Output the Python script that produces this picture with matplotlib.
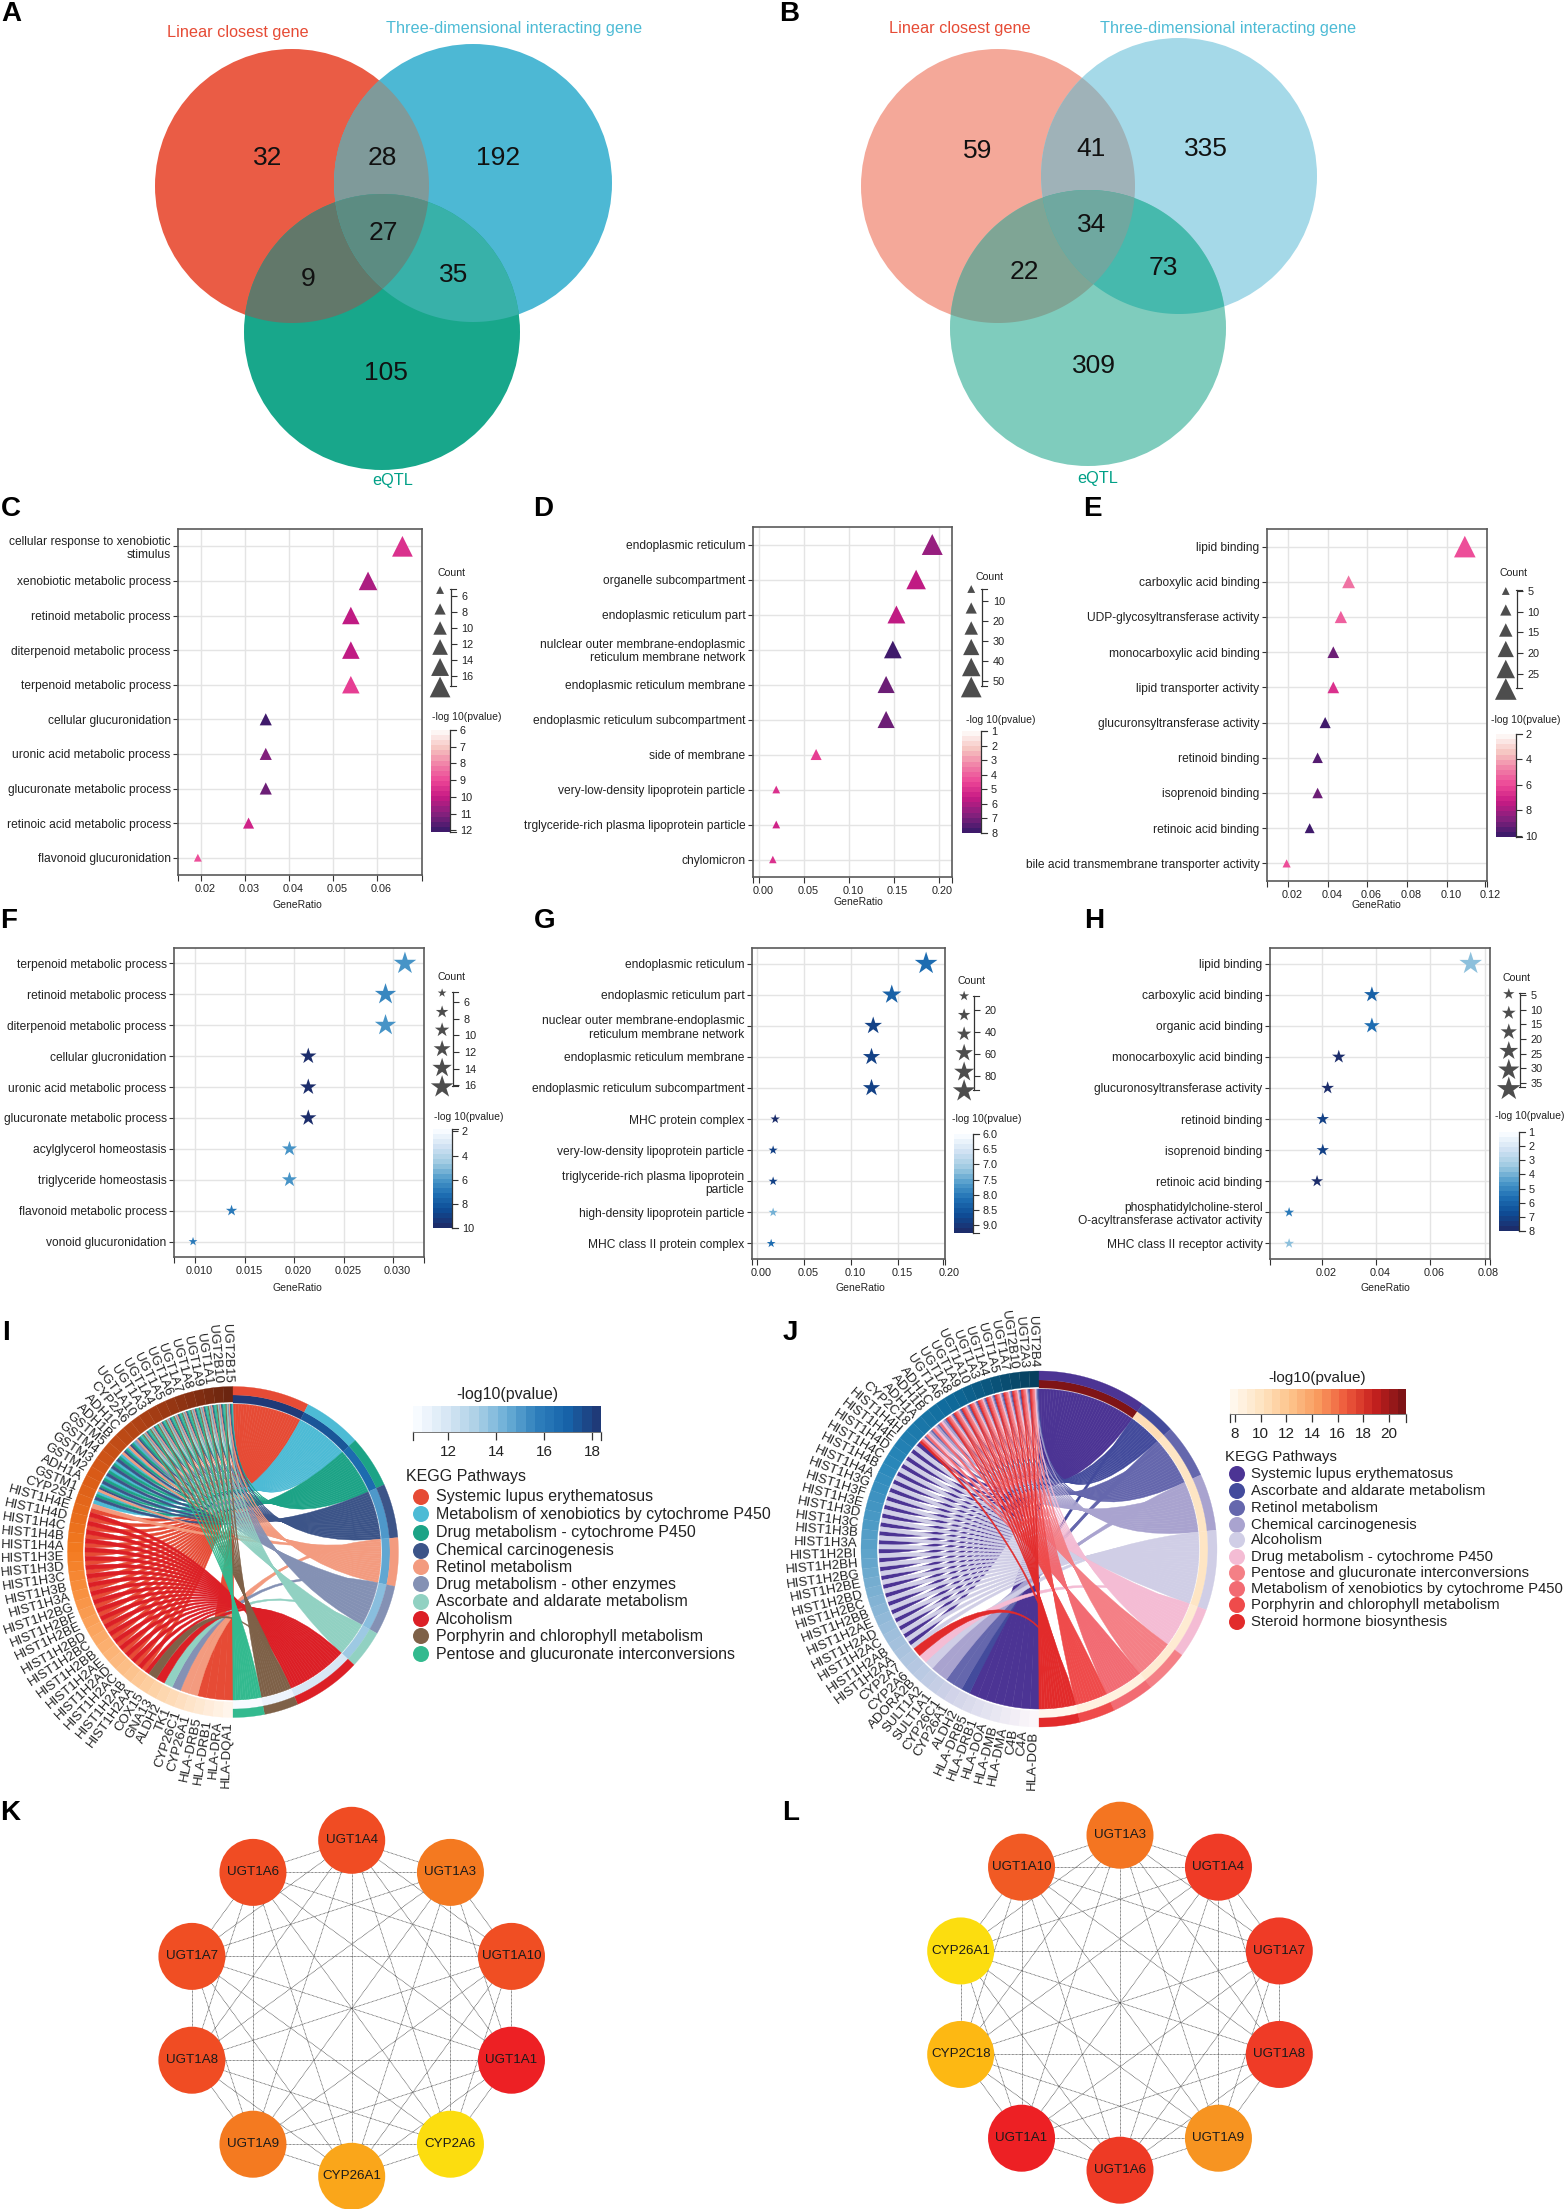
import itertools
import numpy as np
import matplotlib
matplotlib.use('Agg')
import matplotlib.pyplot as plt
from matplotlib.cm import ScalarMappable
from matplotlib.colors import LinearSegmentedColormap, Normalize
from matplotlib.path import Path
from matplotlib.patches import PathPatch, Circle
from matplotlib.transforms import ScaledTranslation

plt.rcParams['font.family'] = ['Liberation Sans', 'DejaVu Sans']

W, H = 1566, 2209

# ---- venn counts (only1, only2, only3, 1&2, 1&3, 2&3, all)
venn_a = [32, 192, 105, 28, 9, 35, 27]
venn_b = [59, 335, 309, 41, 22, 73, 34]
venn_names = ['Linear closest gene', 'Three-dimensional interacting gene', 'eQTL']

# ---- dot plots
c_terms = ['cellular response to xenobiotic\nstimulus', 'xenobiotic metabolic process', 'retinoid metabolic process',
           'diterpenoid metabolic process', 'terpenoid metabolic process', 'cellular glucuronidation',
           'uronic acid metabolic process', 'glucuronate metabolic process', 'retinoic acid metabolic process',
           'flavonoid glucuronidation']
c_ratio = [0.0657, 0.0579, 0.054, 0.054, 0.054, 0.0347, 0.0347, 0.0347, 0.0308, 0.0193]
c_count = [17, 15, 14, 14, 14, 9, 9, 9, 8, 5]
c_pval = [9.5, 10.3, 10.2, 10.2, 9.2, 12, 11, 11.2, 9.8, 9.0]

d_terms = ['endoplasmic reticulum', 'organelle subcompartment', 'endoplasmic reticulum part',
           'nulclear outer membrane-endoplasmic\nreticulum membrane network', 'endoplasmic reticulum membrane',
           'endoplasmic reticulum subcompartment', 'side of membrane', 'very-low-density lipoprotein particle',
           'trglyceride-rich plasma lipoprotein particle', 'chylomicron']
d_ratio = [0.193, 0.175, 0.153, 0.149, 0.1415, 0.1415, 0.0634, 0.0189, 0.0189, 0.0151]
d_count = [53, 48, 42, 41, 39, 39, 17, 5, 5, 4]
d_pval = [6.3, 5.7, 5.8, 8, 7.1, 7.1, 4.6, 5, 5.2, 4.9]

e_terms = ['lipid binding', 'carboxylic acid binding', 'UDP-glycosyltransferase activity',
           'monocarboxylic acid binding', 'lipid transporter activity', 'glucuronsyltransferase activity',
           'retinoid binding', 'isoprenoid binding', 'retinoic acid binding',
           'bile acid transmembrane transporter activity']
e_ratio = [0.109, 0.0505, 0.0466, 0.0428, 0.0428, 0.0387, 0.0349, 0.0349, 0.0309, 0.0193]
e_count = [28, 13, 12, 11, 11, 10, 9, 9, 8, 5]
e_pval = [6, 5, 5.6, 9, 6.5, 10, 9.3, 8.9, 10, 6]

f_terms = ['terpenoid metabolic process', 'retinoid metabolic process', 'diterpenoid metabolic process',
           'cellular glucronidation', 'uronic acid metabolic process', 'glucuronate metabolic process',
           'acylglycerol homeostasis', 'triglyceride homeostasis', 'flavonoid metabolic process',
           'vonoid glucuronidation']
f_ratio = [0.03116, 0.0292, 0.0292, 0.0214, 0.0214, 0.0214, 0.0195, 0.0195, 0.01365, 0.00976]
f_count = [16, 15, 15, 11, 11, 11, 10, 10, 7, 5]
f_pval = [6, 6.5, 6.3, 10, 10, 10, 6.3, 6.3, 7, 7]

g_terms = ['endoplasmic reticulum', 'endoplasmic reticulum part',
           'nuclear outer membrane-endoplasmic\nreticulum membrane network', 'endoplasmic reticulum membrane',
           'endoplasmic reticulum subcompartment', 'MHC protein complex', 'very-low-density lipoprotein particle',
           'triglyceride-rich plasma lipoprotein\nparticle', 'high-density lipoprotein particle',
           'MHC class II protein complex']
g_ratio = [0.18, 0.1434, 0.1236, 0.1218, 0.1218, 0.0191, 0.0169, 0.0169, 0.0169, 0.0148]
g_count = [95, 75, 65, 63, 63, 16, 14, 14, 14, 12]
g_pval = [8.2, 8.4, 8.8, 8.9, 8.9, 9.2, 8.8, 8.8, 7.4, 8.2]

h_terms = ['lipid binding', 'carboxylic acid binding', 'organic acid binding', 'monocarboxylic acid binding',
           'glucuronosyltransferase activity', 'retinoid binding', 'isoprenoid binding', 'retinoic acid binding',
           'phosphatidylcholine-sterol\nO-acyltransferase activator activity', 'MHC class II receptor activity']
h_ratio = [0.0749, 0.0385, 0.0385, 0.0263, 0.0222, 0.0204, 0.0204, 0.0183, 0.008, 0.008]
h_count = [37, 19, 19, 13, 11, 10, 10, 9, 4, 4]
h_pval = [3.8, 6, 5.6, 8, 8, 7.2, 7.2, 8, 5.5, 3.8]

# ---- chord I
i_genes = ['UGT2B15', 'UGT2B10', 'UGT1A1', 'UGT1A9', 'UGT1A8', 'UGT1A7', 'UGT1A6', 'UGT1A5', 'UGT1A4', 'UGT1A3',
           'UGT1A10', 'CYP2A6', 'ADH1C', 'ADH1B', 'GSTM5', 'GSTM4', 'GSTM3', 'GSTM2', 'ADH1A', 'GSTM1', 'CYP2S1',
           'HIST1H4E', 'HIST1H4D', 'HIST1H4C', 'HIST1H4B', 'HIST1H4A', 'HIST1H3E', 'HIST1H3D', 'HIST1H3C',
           'HIST1H3B', 'HIST1H3A', 'HIST1H2BG', 'HIST1H2BF', 'HIST1H2BE', 'HIST1H2BD', 'HIST1H2BC', 'HIST1H2BB',
           'HIST1H2AE', 'HIST1H2AD', 'HIST1H2AC', 'HIST1H2AB', 'HIST1H2AA', 'COX15', 'GNA13', 'ALDH2', 'TK1',
           'CYP26C1', 'CYP26A1', 'HLA-DRB5', 'HLA-DRB1', 'HLA-DRA', 'HLA-DQA1']
i_ugt = [g for g in i_genes if g.startswith('UGT')]
i_gst = [g for g in i_genes if g.startswith('GST')]
i_adh = [g for g in i_genes if g.startswith('ADH')]
i_hist = [g for g in i_genes if g.startswith('HIST')]
i_hla = [g for g in i_genes if g.startswith('HLA')]
i_paths = ['Systemic lupus erythematosus', 'Metabolism of xenobiotics by cytochrome P450',
           'Drug metabolism - cytochrome P450', 'Chemical carcinogenesis', 'Retinol metabolism',
           'Drug metabolism - other enzymes', 'Ascorbate and aldarate metabolism', 'Alcoholism',
           'Porphyrin and chlorophyll metabolism', 'Pentose and glucuronate interconversions']
i_members = [i_hist + i_hla,
             i_ugt + i_gst + i_adh + ['CYP2A6', 'CYP2S1'],
             i_ugt + i_gst + i_adh + ['CYP2A6'],
             i_ugt + i_gst + i_adh + ['CYP2A6'],
             i_ugt + i_adh + ['CYP2A6', 'CYP2S1', 'CYP26C1', 'CYP26A1'],
             i_ugt + ['CYP2A6', 'TK1'],
             i_ugt + ['ALDH2'],
             i_hist + ['GNA13'],
             i_ugt + ['COX15'],
             i_ugt]
i_span = [27, 20.6, 18.4, 19, 17, 17.5, 13.5, 24, 12, 11]
i_pval = [18.2, 17.4, 16.6, 15.2, 14.5, 14.0, 13.6, 11.9, 11.2, 10.8]
i_colors = ['#e64b35', '#4dbbd5', '#1ca386', '#3c5488', '#f39b7f', '#8491b4', '#91d1c2', '#dc1f26', '#7e6148', '#33ba8f']

# ---- chord J
j_genes = ['UGT2B4', 'UGT2A3', 'UGT2B10', 'UGT1A7', 'UGT1A5', 'UGT1A4', 'UGT1A3', 'UGT1A10', 'UGT1A9', 'UGT1A8',
           'UGT1A6', 'ADH1C', 'ADH1B', 'ADH1A', 'CYP2C18', 'HIST1H4H', 'HIST1H4E', 'HIST1H4D', 'HIST1H4C',
           'HIST1H4B', 'HIST1H4A', 'HIST1H3G', 'HIST1H3F', 'HIST1H3E', 'HIST1H3D', 'HIST1H3C', 'HIST1H3B',
           'HIST1H3A', 'HIST1H2BI', 'HIST1H2BH', 'HIST1H2BG', 'HIST1H2BE', 'HIST1H2BD', 'HIST1H2BC', 'HIST1H2BB',
           'HIST1H2AE', 'HIST1H2AD', 'HIST1H2AC', 'HIST1H2AB', 'HIST1H2AA', 'CYP2A7', 'CYP2A6', 'ADORA2B',
           'SULT1A2', 'SULT1A1', 'CYP26C1', 'CYP26A1', 'ALDH2', 'HLA-DRB5', 'HLA-DRB1', 'HLA-DOA', 'HLA-DMB',
           'HLA-DMA', 'C4B', 'C4A', 'HLA-DOB']
j_ugt = [g for g in j_genes if g.startswith('UGT')]
j_adh = [g for g in j_genes if g.startswith('ADH')]
j_hist = [g for g in j_genes if g.startswith('HIST')]
j_sle = ['HLA-DRB5', 'HLA-DRB1', 'HLA-DOA', 'HLA-DMB', 'HLA-DMA', 'C4B', 'C4A', 'HLA-DOB']
j_paths = ['Systemic lupus erythematosus', 'Ascorbate and aldarate metabolism', 'Retinol metabolism',
           'Chemical carcinogenesis', 'Alcoholism', 'Drug metabolism - cytochrome P450',
           'Pentose and glucuronate interconversions', 'Metabolism of xenobiotics by cytochrome P450',
           'Porphyrin and chlorophyll metabolism', 'Steroid hormone biosynthesis']
j_members = [j_hist + j_sle,
             j_ugt + ['ALDH2'],
             j_ugt + j_adh + ['CYP26C1', 'CYP26A1', 'CYP2C18'],
             j_ugt + j_adh + ['SULT1A1', 'SULT1A2'],
             j_hist + ['ADORA2B'],
             j_ugt + j_adh + ['CYP2A6', 'CYP2C18'],
             j_ugt,
             j_ugt + j_adh + ['CYP2C18'],
             j_ugt,
             j_ugt + ['CYP2A7', 'CYP2C18']]
j_span = [35.6, 12.1, 17.7, 18.5, 26.1, 16.6, 14.4, 14, 11.7, 13.3]
j_pval = [21.2, 10.3, 10.0, 9.9, 9.6, 9.2, 9.0, 8.8, 8.4, 8.0]
j_colors = ['#4c3494', '#434b9c', '#6567ad', '#a9a3cf', '#d0cee6', '#f4bcd4', '#f48086', '#f26b73', '#ef4b4b', '#e22b2b']

# ---- networks
k_nodes = ['UGT1A4', 'UGT1A3', 'UGT1A10', 'UGT1A1', 'CYP2A6', 'CYP26A1', 'UGT1A9', 'UGT1A8', 'UGT1A7', 'UGT1A6']
k_colors = ['#f04c23', '#f47920', '#f04e23', '#ed2024', '#fcdd0f', '#faa61a', '#f47a20', '#f04c23', '#f04e23', '#f04c23']
l_nodes = ['UGT1A3', 'UGT1A4', 'UGT1A7', 'UGT1A8', 'UGT1A9', 'UGT1A6', 'UGT1A1', 'CYP2C18', 'CYP26A1', 'UGT1A10']
l_colors = ['#f47521', '#ef3b26', '#ef3b26', '#ef3b26', '#f79421', '#ee3a25', '#ed2024', '#fdb813', '#fcdd0f', '#f15a24']

pink = LinearSegmentedColormap.from_list('pink', ['#fdf6f4', '#f6c4c0', '#f07fa6', '#ec4596', '#c71a84', '#86207d', '#3f1a6b'], N=20)
blue = LinearSegmentedColormap.from_list('blue', ['#f7fbff', '#cfe1f2', '#9ecae1', '#4f9bcb', '#1f70b4', '#0e4d96', '#1c2d6b'], N=20)
i_bar = LinearSegmentedColormap.from_list('ibar', ['#f7fbff', '#d6e6f4', '#abd0e6', '#6aaed6', '#2f7fbc', '#1764ab', '#1f3a78'], N=20)
j_bar = LinearSegmentedColormap.from_list('jbar', ['#fff7ec', '#fee3c0', '#fdc48c', '#f99a5e', '#ee5a3c', '#c7201f', '#7f1416'], N=21)
i_ring = LinearSegmentedColormap.from_list('iring', ['#6b2510', '#a63d14', '#d95a17', '#f47b20', '#fba55f', '#fdd0a2', '#fff5eb'])
j_ring = LinearSegmentedColormap.from_list('jring', ['#07405e', '#0f6a9b', '#2a88bb', '#5ba2c9', '#9dbedb', '#cfd2e8', '#fbf6fa'])

fig = plt.figure(figsize=(W / 100, H / 100), dpi=100)
ov = fig.add_axes([0, 0, 1, 1], zorder=5)
ov.set_xlim(0, W)
ov.set_ylim(H, 0)
ov.axis('off')


def px_axes(x0, y0, x1, y1):
    return fig.add_axes([x0 / W, 1 - y1 / H, (x1 - x0) / W, (y1 - y0) / H])


def area(w):
    return (w * 0.72) ** 2


# ---- venn
def lens(circles):
    pts = []
    t = np.linspace(0, 2 * np.pi, 900)
    for i, (cx, cy, r) in enumerate(circles):
        p = np.c_[cx + r * np.cos(t), cy + r * np.sin(t)]
        for j, (ox, oy, orr) in enumerate(circles):
            if j != i:
                p = p[np.hypot(p[:, 0] - ox, p[:, 1] - oy) <= orr]
        pts.append(p)
    pts = np.vstack(pts)
    c = pts.mean(axis=0)
    return pts[np.argsort(np.arctan2(pts[:, 1] - c[1], pts[:, 0] - c[0]))]


def venn(circles, fills, counts, count_xy, names_xy):
    for i, c in enumerate(circles):
        ov.add_patch(Circle(c[:2], c[2], fc=fills[i], ec='none'))
    pairs = [(0, 1), (0, 2), (1, 2), (0, 1, 2)]
    for idx, col in zip(pairs, fills[3:]):
        ov.fill(*lens([circles[k] for k in idx]).T, fc=col, ec='none')
    for n, (x, y) in zip(counts, count_xy):
        ov.text(x, y, str(n), fontsize=19, ha='center', va='center', color='#111')
    for name, (x, y), col in zip(venn_names, names_xy, ['#e64b35', '#4dbbd5', '#00a087']):
        ov.text(x, y, name, fontsize=11.7, ha='center', va='center', color=col)


venn([(292, 186, 137), (473, 183, 139), (382, 332, 138)],
     ['#ea5c45', '#4db8d4', '#18a78b', '#7f9a9a', '#62786a', '#38b1a9', '#5c8c82'],
     venn_a,
     [(268, 158), (498, 158), (386, 373), (382, 158), (308, 279), (454, 275), (383, 233)],
     [(238, 33), (514, 29), (393, 481)])
venn([(998, 186, 137), (1179, 176, 138), (1088, 328, 138)],
     ['#f4a899', '#a5d9e8', '#7fccbd', '#9fb2b8', '#7fa595', '#46b9ad', '#6fa8a0'],
     venn_b,
     [(978, 151), (1206, 149), (1094, 366), (1091, 149), (1024, 272), (1163, 268), (1092, 225)],
     [(960, 29), (1228, 29), (1098, 479)])


def dot_panel(frame, box, xlim, xticks, fmt, terms, ratio, count, pval, cmap, vrange, marker, crange, wrange, xlab_xy,
              cbar_box, cbar_ticks, cbar_title_xy, cbar_fmt,
              leg_title_xy, glyph_x, glyph_ys, glyph_w, size_axis, size_ticks):
    ox, k = frame
    fx = lambda x: ox + (x - ox) * k
    box = (fx(box[0]), box[1], fx(box[2]), box[3])
    cbar_box = (fx(cbar_box[0]), cbar_box[1], fx(cbar_box[2]), cbar_box[3])
    boost = 1.32 if marker == '*' else 1.12

    ax = px_axes(*box)
    y = np.arange(len(terms))
    ax.set_xlim(*xlim)
    ax.set_ylim(len(terms) - 0.5, -0.5)
    ax.grid(True, color='#e4e4e4', lw=1)
    ax.set_axisbelow(True)
    widths = np.interp(count, crange, wrange) * boost
    ax.scatter(ratio, y, s=area(widths), c=pval, cmap=cmap, vmin=vrange[0], vmax=vrange[1], marker=marker,
               linewidths=0, zorder=3, clip_on=False)
    ax.set_xticks(list(xticks))
    ax.set_xticklabels([fmt % v for v in xticks], fontsize=7.8, color='#222')
    ax.set_xticks(list(xlim), minor=True)
    ax.set_yticks(y)
    ax.set_yticklabels(terms, fontsize=8.65, color='#222', linespacing=1.15, multialignment='right')
    ax.tick_params(axis='y', length=3.6, width=0.8, pad=2, color='#333')
    ax.tick_params(axis='x', which='both', length=4, width=0.8, pad=2.5, color='#333')
    shift = ScaledTranslation(4 / 100, 0, fig.dpi_scale_trans)
    for lab in ax.get_xticklabels():
        lab.set_transform(lab.get_transform() + shift)
    for s in ax.spines.values():
        s.set_color('#5a5a5a')
        s.set_linewidth(1.2)
    ov.text(fx(xlab_xy[0]), xlab_xy[1], 'GeneRatio', fontsize=7.5, ha='center', va='center', color='#222')

    # size legend
    ov.text(fx(leg_title_xy[0]), leg_title_xy[1], 'Count', fontsize=7.6, ha='center', va='center', color='#222')
    ov.scatter([fx(glyph_x)] * len(glyph_ys), glyph_ys, s=area(np.array(glyph_w) * boost),
               marker=marker, c='#4d4d4d', linewidths=0)
    sx, sy0, sy1, v0, v1 = size_axis
    sx = fx(sx)
    sax = px_axes(sx, sy0, sx + 1, sy1)
    sax.patch.set_visible(False)
    sax.set_ylim(v1, v0)
    sax.set_xticks([])
    sax.yaxis.tick_right()
    sax.set_yticks(size_ticks)
    sax.tick_params(axis='y', length=4, width=0.8, labelsize=7.8, pad=3.5, color='#333', labelcolor='#222')
    for key in ['left', 'top', 'bottom']:
        sax.spines[key].set_visible(False)
    sax.spines['right'].set_color('#333')
    sax.spines['right'].set_linewidth(0.9)
    for yy in (sy0, sy1):
        ov.plot([sx, sx + 6], [yy, yy], color='#333', lw=0.8)

    # colour legend
    cax = px_axes(*cbar_box)
    sm = ScalarMappable(Normalize(*vrange), cmap)
    cb = fig.colorbar(sm, cax=cax)
    cb.outline.set_visible(False)
    cb.set_ticks(cbar_ticks)
    cb.set_ticklabels([cbar_fmt % v for v in cbar_ticks])
    cax.invert_yaxis()
    cax.tick_params(axis='y', length=4, width=0.8, labelsize=7.8, pad=3, color='#333', labelcolor='#222')
    ov.plot([cbar_box[2], cbar_box[2]], [cbar_box[1], cbar_box[3]], color='#333', lw=0.9)
    for yy in (cbar_box[1], cbar_box[3]):
        ov.plot([cbar_box[2], cbar_box[2] + 6], [yy, yy], color='#333', lw=0.8)
    ov.text(fx(cbar_title_xy[0]), cbar_title_xy[1], '-log 10(pvalue)', fontsize=7.5, ha='center', va='center', color='#222')


dot_panel((0, 1.014), (176, 529, 416, 875), (0.0149, 0.0701), [0.02, 0.03, 0.04, 0.05, 0.06], '%.2f',
          c_terms, c_ratio, c_count, c_pval, pink, (6, 12.1), '^', (5, 17), (7, 18.5), (293, 905),
          (425, 730, 444, 832), [6, 7, 8, 9, 10, 11, 12], (460, 717), '%d',
          (445, 573), 434, [590, 609, 628, 647, 667, 687], [7, 10, 12, 14, 16, 18.5],
          (444, 589, 686, 5.1, 17.2), [6, 8, 10, 12, 14, 16])
dot_panel((520, 1.014), (750, 527, 946, 877), (-0.0068, 0.215), [0, 0.05, 0.10, 0.15, 0.20], '%.2f',
          d_terms, d_ratio, d_count, d_pval, pink, (1, 8), '^', (4, 53), (6.7, 18.7), (854, 902),
          (956, 731, 975, 833), [1, 2, 3, 4, 5, 6, 7, 8], (994, 720), '%d',
          (983, 577), 965, [589, 608, 628, 647, 667, 687], [7, 10, 12, 14.5, 16.5, 18.5],
          (975, 589, 686, 4.2, 52.5), [10, 20, 30, 40, 50])
dot_panel((1040, 1.006), (1266, 529, 1484, 881), (0.0096, 0.119), [0.02, 0.04, 0.06, 0.08, 0.10, 0.12], '%.2f',
          e_terms, e_ratio, e_count, e_pval, pink, (2, 10.1), '^', (5, 28), (7.3, 19.3), (1374, 905),
          (1493, 734, 1513, 837), [2, 4, 6, 8, 10], (1523, 720), '%d',
          (1511, 573), 1503, [591, 610, 630, 649, 669, 689], [7, 10, 12, 14.5, 16.5, 19.3],
          (1513, 590, 688, 4.8, 28.4), [5, 10, 15, 20, 25])
dot_panel((0, 1.014), (172, 948, 418, 1257), (0.00788, 0.03307), [0.010, 0.015, 0.020, 0.025, 0.030], '%.3f',
          f_terms, f_ratio, f_count, f_pval, blue, (1.8, 10), '*', (5, 16), (7, 18), (293, 1288),
          (427, 1129, 446, 1228), [2, 4, 6, 8, 10], (462, 1117), '%d',
          (445, 977), 436, [993, 1012, 1030, 1049, 1068, 1087], [7, 10, 11.5, 13.5, 15.5, 18],
          (446, 992, 1086, 4.8, 16.1), [6, 8, 10, 12, 14, 16])
dot_panel((520, 1.014), (749, 948, 939, 1259), (-0.0054, 0.198), [0, 0.05, 0.10, 0.15, 0.20], '%.2f',
          g_terms, g_ratio, g_count, g_pval, blue, (6, 9.26), '*', (12, 95), (7, 18), (856, 1288),
          (948, 1134, 967, 1233), [6, 6.5, 7, 7.5, 8, 8.5, 9], (980, 1119), '%.1f',
          (965, 981), 958, [996, 1015, 1034, 1053, 1072, 1091], [8, 10, 11.5, 14, 16, 18],
          (967, 996, 1090, 7.3, 92.7), [20, 40, 60, 80])
dot_panel((1040, 1.006), (1269, 948, 1487, 1259), (0.0011, 0.0819), [0.02, 0.04, 0.06, 0.08], '%.2f',
          h_terms, h_ratio, h_count, h_pval, blue, (1, 8), '*', (4, 37), (8, 18), (1383, 1288),
          (1496, 1132, 1516, 1231), [1, 2, 3, 4, 5, 6, 7, 8], (1527, 1116), '%d',
          (1514, 978), 1506, [994, 1013, 1032, 1051, 1070, 1089], [9, 11, 13, 15, 17, 19],
          (1516, 993, 1087, 4.3, 36.4), [5, 10, 15, 20, 25, 30, 35])


# ---- chord panels
def pol(cx, cy, r, deg):
    t = np.radians(deg)
    return np.c_[cx + r * np.sin(t), cy - r * np.cos(t)]


def ring(cx, cy, r0, r1, t0, t1, color):
    t = np.linspace(t0, t1, 30)
    pts = np.vstack([pol(cx, cy, r1, t), pol(cx, cy, r0, t[::-1])])
    ov.fill(pts[:, 0], pts[:, 1], fc=color, ec=color, lw=0.2)


def ribbon(cx, cy, r, a0, a1, b0, b1, color, zorder):
    aa = pol(cx, cy, r, np.linspace(a0, a1, 6))
    bb = pol(cx, cy, r, np.linspace(b0, b1, 6))
    verts = list(aa) + [(cx, cy), bb[0]] + list(bb[1:]) + [(cx, cy), aa[0]]
    codes = [Path.MOVETO] + [Path.LINETO] * 5 + [Path.CURVE3, Path.CURVE3] + [Path.LINETO] * 5 + [Path.CURVE3, Path.CURVE3]
    ov.add_patch(PathPatch(Path(verts, codes), fc=color, ec=color, lw=0.3, zorder=zorder))


def chord(cx, cy, r_rib, r_gene, r_heat, r_out, genes, members, span, pval, colors, ring_cmap, heat_cmap, vrange):
    n = len(genes)
    g = 180.0 / n
    # gene side
    for i, name in enumerate(genes):
        t1 = 360 - i * g
        ring(cx, cy, r_gene, r_out, t1 - g, t1, ring_cmap(i / (n - 1)))
        mid = t1 - g / 2
        rot = np.degrees(np.arctan2(-np.cos(np.radians(mid)), -np.sin(np.radians(mid))))
        x, y = pol(cx, cy, r_out + 3.5, mid)[0]
        ov.text(x, y, name, fontsize=9.5, rotation=rot, rotation_mode='anchor', ha='right', va='center', color='#222')
    # pathway side
    starts = np.concatenate([[0], np.cumsum(span)[:-1]])
    norm = Normalize(*vrange)
    link_count = {name: sum(name in m for m in members) for name in genes}
    seen = {name: 0 for name in genes}
    for p, (s, w) in enumerate(zip(starts, span)):
        ring(cx, cy, r_rib + 1, r_heat, s, s + w, heat_cmap(norm(pval[p])))
        ring(cx, cy, r_heat, r_out, s, s + w, colors[p])
        m = sorted(members[p], key=genes.index, reverse=True)
        dw = w / len(m)
        for k, name in enumerate(m):
            i = genes.index(name)
            part = g / link_count[name]
            top = 360 - i * g - seen[name] * part
            seen[name] += 1
            ribbon(cx, cy, r_rib, top - part, top, s + k * dw, s + (k + 1) * dw, colors[p], 2 + p * 0.01)


def bar_legend(box, vrange, cmap, ticks, title_xy, fontsize):
    cax = px_axes(*box)
    cb = fig.colorbar(ScalarMappable(Normalize(*vrange), cmap), cax=cax, orientation='horizontal')
    cb.outline.set_visible(False)
    cb.set_ticks(ticks)
    cax.tick_params(axis='x', length=6, width=0.9, labelsize=11, pad=3, color='#333', labelcolor='#222')
    for xx in (box[0], box[2]):
        ov.plot([xx, xx], [box[3], box[3] + 8], color='#333', lw=0.9)
    ov.plot([box[0], box[2]], [box[3], box[3]], color='#777', lw=0.7)
    ov.text(*title_xy, '-log10(pvalue)', fontsize=fontsize, ha='center', va='center', color='#222')


def path_legend(names, colors, title_xy, dot_x, text_x, ys, fontsize):
    ov.text(*title_xy, 'KEGG Pathways', fontsize=fontsize, ha='left', va='center', color='#222')
    ov.scatter([dot_x] * len(names), ys, s=area(16), c=colors, linewidths=0)
    for name, yy in zip(names, ys):
        ov.text(text_x, yy, name, fontsize=fontsize, ha='left', va='center', color='#222')


chord(233, 1552, 148, 150, 157, 165.5, i_genes, i_members, i_span, i_pval, i_colors, i_ring, i_bar, (10.53, 18.36))
bar_legend((413, 1406, 601, 1432), (10.53, 18.36), i_bar, [12, 14, 16, 18], (507, 1395), 11.4)
path_legend(i_paths, i_colors, (406, 1477), 421, 436,
            [1497, 1514, 1533, 1551, 1567, 1584, 1602, 1619, 1636, 1654], 11.55)

chord(1039, 1549, 160, 162, 169, 178, j_genes, j_members, j_span, j_pval, j_colors, j_ring, j_bar, (7.6, 21.35))
bar_legend((1230, 1389, 1406, 1414), (7.6, 21.35), j_bar, [8, 10, 12, 14, 16, 18, 20], (1317, 1378), 11)
path_legend(j_paths, j_colors, (1225, 1457), 1237, 1251,
            [1474, 1491, 1508, 1525, 1540, 1557, 1573, 1589, 1605, 1622], 10.75)


# ---- network panels
def network(cx, cy, radius, nodes, colors):
    t = np.linspace(0, 360, len(nodes), endpoint=False)
    xy = pol(cx, cy, radius, t)
    for a, b in itertools.combinations(range(len(nodes)), 2):
        ov.plot([xy[a, 0], xy[b, 0]], [xy[a, 1], xy[b, 1]], color='#444444', lw=0.55, ls=(0, (1, 0.8)), zorder=1)
    for (x, y), name, col in zip(xy, nodes, colors):
        ov.add_patch(Circle((x, y), 33.5, fc=col, ec='none', zorder=3))
        ov.text(x, y, name, fontsize=9.6, ha='center', va='center', color='#1a1a1a', zorder=4)


network(351.7, 2008.3, 168, k_nodes, k_colors)
network(1120, 2002.7, 167.5, l_nodes, l_colors)

# ---- panel letters
letters = {'A': (11, 14), 'B': (789, 14), 'C': (11, 509), 'D': (543, 509), 'E': (1092, 509), 'F': (9, 921),
           'G': (545, 921), 'H': (1094, 921), 'I': (6, 1333), 'J': (790, 1333), 'K': (10, 1813), 'L': (791, 1813)}
for name, (x, y) in letters.items():
    ov.text(x, y, name, fontsize=20, fontweight='bold', ha='center', va='center', color='black')

fig.savefig('out.png', dpi=100, facecolor='white')
